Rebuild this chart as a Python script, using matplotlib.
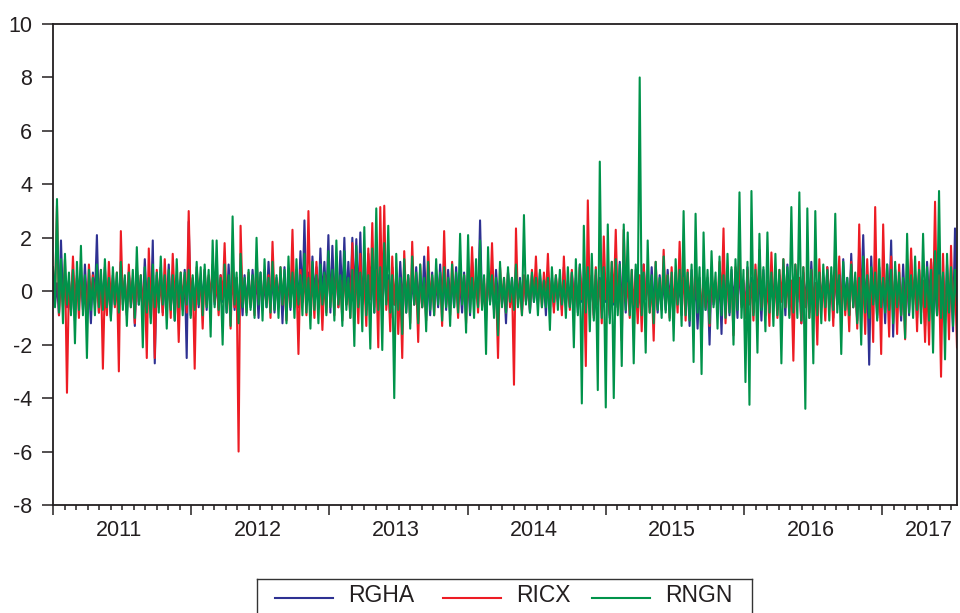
import numpy as np
import matplotlib
matplotlib.use("Agg")
import matplotlib.pyplot as plt
from matplotlib.ticker import FixedLocator, NullFormatter

plt.rcParams['font.family'] = ['Liberation Sans', 'DejaVu Sans']

# sample span (fractional years), series names and colours
START, END = 2011.0, 2017.54
YEARS = [2011, 2012, 2013, 2014, 2015, 2016, 2017]
NAMES = ["RGHA", "RICX", "RNGN"]
COLORS = ["#2e3192", "#ed1c24", "#00934a"]
INK = "#231f20"

# daily returns, thinned
rgha = [0.6, -0.5, 0.3, -0.9, 1.9, -0.4, 0.7, -0.6, 0.4, -0.8, 0.8, -1.1, 0.5, -0.4, 0.6, -0.7, 1.0, -0.5, 0.4, -1.2,
        0.7, -0.3, 2.1, -0.8, 0.5, -0.4, 0.9, -0.6, 0.3, -1.0, 0.6, -0.5, 0.4, -0.7, 1.1, -0.3, 0.5, -0.9, 0.7, -0.4,
        0.4, -1.3, 0.8, -0.5, 0.3, -0.6, 1.2, -0.4, 0.5, -1.0, 1.9, -2.7, 0.6, -0.4, 0.9, -0.8, 0.3, -0.5, 1.0, -0.6,
        0.5, -1.1, 0.6, -0.3, 0.4, -0.7, 0.8, -2.5, 2.6, -0.9, 0.3, -0.5, 0.7, -0.6, 0.4, -0.3, 0.8, -0.7, 0.5, -0.4,
        0.9, -0.5, 0.3, -0.6, 0.6, -0.4, 0.5, -0.8, 1.0, -0.3, 0.4, -0.7, 0.5, -0.6, 0.3, -0.9, 0.6, -0.4, 0.5, -0.6,
        0.8, -0.3, 0.4, -1.0, 0.7, -0.5, 0.3, -0.6, 1.1, -0.4, 0.5, -0.8, 0.5, -0.3, 0.6, -1.2, 0.9, -0.5, 0.4, -0.7,
        1.2, -0.3, 0.8, -0.6, 1.5, -0.4, 2.65, -0.5, 0.7, -0.9, 1.3, -0.2, 0.9, -0.5, 1.6, -0.3, 1.1, -0.4, 2.1, -0.8,
        1.7, -0.3, 0.9, -0.6, 1.5, -0.4, 2.0, -0.5, 1.1, -0.4, 2.0, -0.3, 1.95, -0.5, 2.2, -0.4, 0.8, -0.7, 1.4, -0.3,
        0.7, -0.8, 1.6, -0.4, 0.5, -0.9, 1.2, -0.3, 0.6, -1.0, 0.9, -0.5, 0.4, -0.7, 1.1, -0.3, 0.5, -0.8, 0.6, -0.4,
        0.3, -0.5, 0.9, -0.4, 0.5, -0.6, 1.3, -0.3, 0.4, -0.9, 0.7, -0.5, 0.3, -0.6, 1.0, -0.4, 0.5, -0.7, 0.8, -0.3,
        0.4, -0.6, 0.9, -0.5, 0.3, -0.8, 0.7, -0.4, 0.5, -0.9, 1.1, -0.3, 0.4, -0.6, 2.65, -0.5, 0.3, -0.8, 0.6, -0.4,
        0.5, -0.7, 0.8, -0.3, 0.4, -0.5, 0.3, -1.2, 0.7, -0.4, 0.5, -0.6, 0.9, -0.3, 0.5, -0.7, 0.5, -0.4, 0.3, -0.8,
        0.6, -0.4, 0.3, -0.5, 0.7, -0.3, 0.4, -0.9, 0.8, -0.3, 0.5, -0.6, 0.5, -0.4, 0.3, -0.7, 0.9, -0.5, 0.4, -0.6,
        0.7, -0.3, 0.5, -0.8, 1.0, -0.4, 0.3, -0.6, 0.8, -0.5, 0.4, -0.9, 0.6, -0.3, 0.5, -0.7, 0.9, -0.4, 0.3, -1.0,
        0.7, -0.5, 0.4, -0.6, 1.1, -0.3, 0.5, -0.8, 0.6, -0.4, 0.3, -0.9, 0.8, -0.5, 0.4, -0.7, 1.0, -0.3, 0.5, -0.6,
        0.9, -0.4, 0.3, -0.8, 0.6, -0.5, 0.4, -0.7, 0.8, -0.3, 0.5, -1.1, 0.7, -0.4, 0.3, -0.9, 1.0, -0.5, 0.4, -1.3,
        0.8, -0.6, 0.3, -1.4, 0.5, -2.0, 0.9, -0.7, 0.4, -2.0, 0.7, -0.5, 0.3, -0.8, 0.6, -1.6, 1.2, -0.4, 0.5, -0.9,
        0.8, -0.3, 0.4, -1.0, 1.1, -0.5, 0.3, -0.7, 0.9, -0.4, 0.5, -0.8, 0.6, -0.3, 0.4, -1.1, 0.8, -0.5, 0.3, -0.6,
        0.9, -0.4, 0.5, -0.7, 0.6, -0.3, 0.4, -0.9, 1.0, -0.5, 0.3, -0.6, 0.8, -0.4, 0.5, -1.2, 0.7, -0.3, 0.4, -0.8,
        1.1, -0.5, 0.3, -0.9, 0.7, -0.4, 0.5, -0.6, 0.9, -0.3, 0.4, -1.0, 0.8, -0.5, 0.3, -0.7, 1.2, -0.4, 0.5, -0.9,
        1.4, -0.6, 0.4, -1.1, 1.6, -0.3, 2.1, -0.5, 0.6, -2.75, 1.3, -0.4, 0.5, -1.0, 0.9, -0.3, 0.4, -1.2, 1.0, -0.6,
        1.9, -1.7, 0.8, -0.3, 0.5, -1.1, 1.0, -0.6, 0.4, -0.9, 1.2, -0.3, 0.5, -1.0, 0.8, -0.6, 0.3, -1.3, 1.1, -0.4,
        1.1, -0.5, 0.3, -0.9, 1.4, -0.4, 0.6, -1.2, 1.0, -0.5, 0.4, -1.5, 2.35, -0.5]

ricx = [0.8, -0.4, 3.2, -0.9, 0.5, -0.6, 1.2, -3.8, 0.4, -0.7, 1.3, -0.5, 0.6, -1.0, 0.9, -0.4, 0.5, -1.1, 1.0, -0.3,
        0.6, -0.5, 0.4, -0.8, 0.8, -2.9, 0.3, -0.9, 1.1, -0.4, 0.5, -0.6, 0.7, -3.0, 2.25, -0.5, 0.4, -0.8, 1.0, -0.6,
        0.5, -1.2, 0.9, -0.4, 0.6, -0.7, 0.3, -2.5, 1.6, -0.5, 0.4, -2.5, 0.8, -0.6, 0.5, -0.9, 1.2, -0.5, 0.4, -1.0,
        1.4, -0.3, 0.5, -1.9, 0.7, -0.4, 0.6, -0.8, 3.0, -0.4, 0.5, -2.9, 0.9, -0.3, 0.4, -1.4, 0.8, -0.5, 0.6, -0.3,
        1.0, -0.4, 0.5, -0.9, 0.6, -0.3, 1.8, -0.5, 0.4, -1.4, 0.9, -0.6, 0.5, -6.0, 2.45, -0.4, 0.3, -0.8, 0.7, -0.5,
        0.4, -0.9, 1.2, -0.3, 0.5, -0.7, 0.8, -0.4, 0.6, -1.0, 1.85, -0.3, 0.4, -0.6, 0.9, -0.5, 0.3, -1.1, 0.7, -0.4,
        2.3, -0.6, 0.5, -2.35, 0.8, -0.4, 0.6, -0.9, 3.0, -0.5, 0.4, -1.0, 1.1, -0.3, 0.5, -1.45, 0.6, -0.8, 1.2, -0.4,
        0.5, -0.9, 1.3, -0.6, 0.4, -1.1, 0.9, -0.5, 0.3, -1.0, 1.8, -0.4, 0.6, -1.2, 1.4, -0.5, 0.4, -1.3, 1.6, -0.3,
        2.55, -0.6, 0.8, -2.1, 3.15, -0.5, 3.2, -0.7, 0.4, -1.5, 1.3, -0.5, 0.6, -1.6, 0.3, -2.5, 1.5, -0.4, 0.5, -1.2,
        1.85, -0.5, 0.4, -1.9, 1.0, -0.6, 0.3, -1.1, 1.65, -0.4, 0.5, -0.9, 0.8, -0.3, 0.6, -1.3, 2.25, -0.5, 0.4, -0.9,
        1.1, -0.3, 0.5, -1.0, 0.8, -0.4, 0.6, -1.2, 0.9, -0.5, 1.65, -0.3, 0.4, -0.8, 1.0, -0.6, 0.5, -1.1, 0.7, -0.4,
        1.8, -0.5, 0.3, -2.5, 0.9, -0.4, 0.5, -0.8, 0.7, -0.6, 0.4, -3.5, 2.35, -0.5, 0.3, -0.9, 0.6, -0.4, 0.5, -0.7,
        0.8, -0.3, 1.3, -0.4, 0.5, -0.6, 0.7, -0.3, 1.4, -0.5, 0.4, -0.8, 0.6, -0.3, 0.5, -0.9, 1.3, -0.4, 0.3, -0.7,
        0.8, -0.5, 0.4, -0.6, 0.9, -0.3, 0.5, -2.8, 3.4, -0.4, 0.6, -1.0, 0.9, -0.5, 0.4, -1.2, 2.05, -0.3, 0.5, -0.9,
        1.1, -0.4, 2.3, -0.6, 0.5, -1.85, 2.3, -0.4, 0.3, -1.0, 0.8, -0.5, 0.4, -1.2, 0.6, -1.5, 1.0, -0.3, 0.5, -0.8,
        0.4, -1.85, 1.1, -0.5, 0.3, -0.7, 1.55, -0.4, 0.6, -1.0, 0.9, -0.5, 0.4, -0.8, 1.85, -0.3, 0.5, -1.1, 0.8, -0.4,
        0.5, -0.9, 1.2, -0.3, 0.4, -1.0, 0.8, -0.6, 0.5, -1.3, 0.9, -0.4, 0.3, -0.7, 1.1, -0.5, 2.35, -1.2, 0.6, -0.4,
        0.5, -1.65, 0.9, -0.3, 1.45, -0.6, 0.4, -1.0, 0.8, -0.5, 0.3, -1.1, 1.0, -0.4, 1.55, -0.6, 0.5, -0.9, 0.4, -1.3,
        1.45, -0.5, 0.3, -1.0, 0.8, -0.4, 1.2, -0.6, 0.5, -0.9, 0.4, -2.6, 1.0, -0.3, 0.5, -1.2, 0.9, -0.6, 0.3, -1.0,
        0.8, -0.5, 0.3, -2.0, 1.2, -0.6, 0.4, -1.1, 0.9, -0.5, 0.6, -1.3, 1.0, -0.4, 1.3, -0.7, 0.5, -0.9, 0.3, -1.5,
        1.1, -0.6, 0.5, -1.4, 2.5, -0.8, 0.4, -1.6, 1.2, -0.7, 0.6, -1.9, 3.15, -0.9, 0.5, -2.35, 2.5, -0.6, 0.4, -1.7,
        1.3, -0.8, 0.5, -1.6, 1.0, -0.9, 0.4, -1.8, 1.2, -0.7, 1.6, -0.5, 0.6, -1.5, 1.1, -0.8, 0.4, -1.9, 0.6, -2.0,
        1.2, -0.7, 3.35, -0.9, 0.6, -3.2, 1.4, -1.1, 0.5, -1.8, 1.7, -0.9, 0.5, -2.1]

rngn = [0.9, -0.6, 3.45, -0.8, 1.2, -1.2, 1.4, -0.5, 0.7, -0.9, 0.8, -1.95, 1.1, -0.7, 1.7, -0.9, 0.6, -2.5, 0.8, -0.7,
        0.5, -0.9, 1.0, -0.6, 0.8, -0.7, 1.2, -0.6, 0.5, -1.1, 0.9, -0.5, 0.7, -0.8, 1.1, -0.7, 0.6, -1.3, 0.7, -0.6,
        0.8, -1.0, 1.65, -0.5, 0.6, -2.1, 0.9, -0.8, 0.5, -1.2, 1.0, -0.6, 0.7, -0.8, 1.3, -0.5, 0.6, -1.4, 0.8, -0.7,
        0.6, -1.1, 1.2, -0.6, 0.7, -0.9, 0.7, -0.5, 0.8, -1.0, 0.6, -0.7, 1.1, -0.5, 0.9, -0.9, 1.0, -0.6, 0.8, -1.7,
        1.9, -0.6, 1.9, -0.7, 0.5, -2.0, 1.0, -0.8, 0.6, -1.3, 2.8, -0.5, 0.7, -1.2, 1.4, -0.6, 0.5, -0.9, 0.8, -0.7,
        0.6, -1.0, 2.0, -0.5, 0.7, -1.1, 1.2, -0.6, 0.5, -0.8, 1.1, -0.7, 0.6, -1.0, 0.9, -0.5, 0.8, -1.2, 1.3, -0.6,
        0.7, -1.0, 1.2, -0.5, 0.6, -0.9, 1.4, -0.8, 0.5, -1.4, 1.1, -0.7, 0.6, -1.2, 1.0, -0.5, 0.7, -0.9, 1.5, -0.6,
        0.8, -1.1, 1.9, -0.5, 0.6, -1.3, 1.5, -0.7, 0.5, -1.0, 0.8, -2.05, 1.7, -0.6, 0.7, -1.5, 2.4, -0.9, 0.6, -2.15,
        1.6, -0.8, 3.1, -0.7, 0.9, -2.2, 1.8, -0.5, 2.45, -0.8, 0.6, -4.0, 1.4, -0.7, 0.5, -1.6, 1.2, -0.8, 0.6, -1.4,
        1.3, -0.5, 0.7, -1.2, 1.0, -0.6, 0.5, -1.5, 1.1, -0.7, 0.6, -0.9, 1.2, -0.5, 0.7, -1.1, 0.9, -0.6, 0.5, -1.3,
        1.0, -0.6, 0.7, -0.8, 2.15, -0.5, 0.6, -1.55, 2.1, -0.8, 0.5, -1.0, 1.2, -0.6, 1.9, -0.7, 0.6, -2.35, 1.65, -0.5,
        0.6, -1.0, 0.5, -1.65, 1.1, -0.6, 0.5, -0.8, 0.9, -0.4, 0.5, -0.7, 1.0, -0.6, 0.4, -0.9, 2.85, -0.5, 0.6, -0.8,
        0.7, -0.4, 0.5, -0.9, 0.8, -0.6, 0.4, -0.6, 0.5, -1.45, 0.9, -0.4, 0.6, -0.7, 0.8, -0.5, 0.4, -1.0, 0.9, -0.6,
        0.7, -2.1, 1.2, -0.9, 1.0, -4.2, 2.45, -0.8, 0.9, -1.5, 1.4, -1.1, 0.8, -3.7, 4.85, -1.0, 0.9, -4.35, 2.5, -1.2,
        1.1, -4.0, 1.2, -0.9, 1.0, -2.8, 2.5, -0.7, 2.2, -0.9, 0.8, -2.7, 1.0, -0.6, 8.0, -0.9, 0.7, -2.3, 1.9, -0.8,
        0.6, -1.2, 1.1, -0.7, 0.5, -1.0, 1.3, -0.8, 0.6, -1.1, 0.7, -1.85, 1.2, -0.5, 0.8, -1.3, 3.0, -0.9, 0.7, -1.1,
        1.0, -2.65, 2.9, -0.8, 0.9, -3.1, 2.2, -0.7, 0.8, -1.2, 1.5, -0.6, 0.7, -1.4, 1.3, -0.9, 0.6, -1.0, 1.4, -0.8,
        0.9, -2.0, 1.2, -0.7, 3.7, -1.0, 0.8, -3.4, 1.1, -4.25, 3.75, -0.9, 0.8, -2.3, 2.15, -0.7, 0.9, -1.5, 2.2, -0.8,
        0.7, -1.3, 1.4, -0.9, 0.8, -2.7, 1.2, -0.6, 0.9, -1.0, 3.15, -0.8, 1.0, -1.0, 3.7, -1.1, 0.9, -4.4, 3.1, -1.0,
        0.8, -2.7, 3.0, -0.9, 0.7, -1.2, 1.0, -0.6, 0.8, -1.1, 0.9, -0.7, 2.9, -0.8, 0.6, -2.35, 1.1, -0.7, 0.5, -0.9,
        1.0, -0.6, 0.7, -1.2, 0.5, -2.0, 1.3, -0.8, 0.6, -1.0, 0.9, -0.5, 0.7, -1.1, 1.2, -0.6, 0.5, -0.8, 1.0, -0.7,
        0.8, -1.2, 1.1, -0.6, 0.7, -0.9, 0.5, -1.75, 2.15, -0.8, 0.6, -1.0, 1.3, -0.7, 0.8, -1.2, 2.15, -0.6, 0.9, -1.1,
        0.8, -2.3, 1.5, -0.9, 3.75, -1.0, 0.7, -2.55, 1.4, -0.8, 0.9, -1.3, 0.8, -0.5]

fig = plt.figure(figsize=(9.6, 6.13), dpi=100)
ax = fig.add_axes([53 / 960, 1 - 505 / 613, 904 / 960, 481 / 613])
for vals, c in zip([rgha, ricx, rngn], COLORS):
    ax.plot(np.linspace(START, END, len(vals)), vals, color=c, lw=1.5)

ax.set_xlim(START, END)
ax.set_ylim(-8, 10)
yt = np.arange(-8, 11, 2)
ax.set_yticks(yt)
ax.set_yticklabels([str(v) for v in yt])
ax.tick_params(axis='y', direction='out', length=8, width=1.1, pad=7,
               labelsize=15.5, colors=INK, right=False)

ax.xaxis.set_major_locator(FixedLocator(YEARS))
ax.xaxis.set_major_formatter(NullFormatter())
ax.xaxis.set_minor_locator(FixedLocator(np.arange(START, END, 1 / 12)))
ax.tick_params(axis='x', which='major', direction='out', length=7, width=1.1,
               colors=INK, top=False)
ax.tick_params(axis='x', which='minor', direction='out', length=3.6, width=1.1,
               colors=INK, top=False)
for yr in YEARS:
    pos = min(yr + 0.48, END - 0.2)
    ax.annotate(str(yr), xy=(pos, 0), xycoords=('data', 'axes fraction'),
                xytext=(0, -11), textcoords='offset points',
                ha='center', va='top', fontsize=15.5, color=INK)
for s in ax.spines.values():
    s.set_linewidth(1.3)
    s.set_color(INK)

# legend box, cut by the bottom edge of the image (pixel units)
leg = fig.add_axes([257 / 960, 0, 495 / 960, 34 / 613])
leg.set_xlim(0, 495)
leg.set_ylim(0, 34)
leg.set_xticks([])
leg.set_yticks([])
leg.patch.set_alpha(0)
leg.spines['bottom'].set_visible(False)
for s in ['top', 'left', 'right']:
    leg.spines[s].set_linewidth(1.0)
    leg.spines[s].set_color("#333333")
for name, c, x0 in zip(NAMES, COLORS, [18, 186, 335]):
    leg.plot([x0, x0 + 58], [15.5, 15.5], color=c, lw=1.5)
    leg.text(x0 + 73, 18, name, ha='left', va='center', fontsize=16.5,
             color=INK)

fig.savefig("out.png", dpi=100)
